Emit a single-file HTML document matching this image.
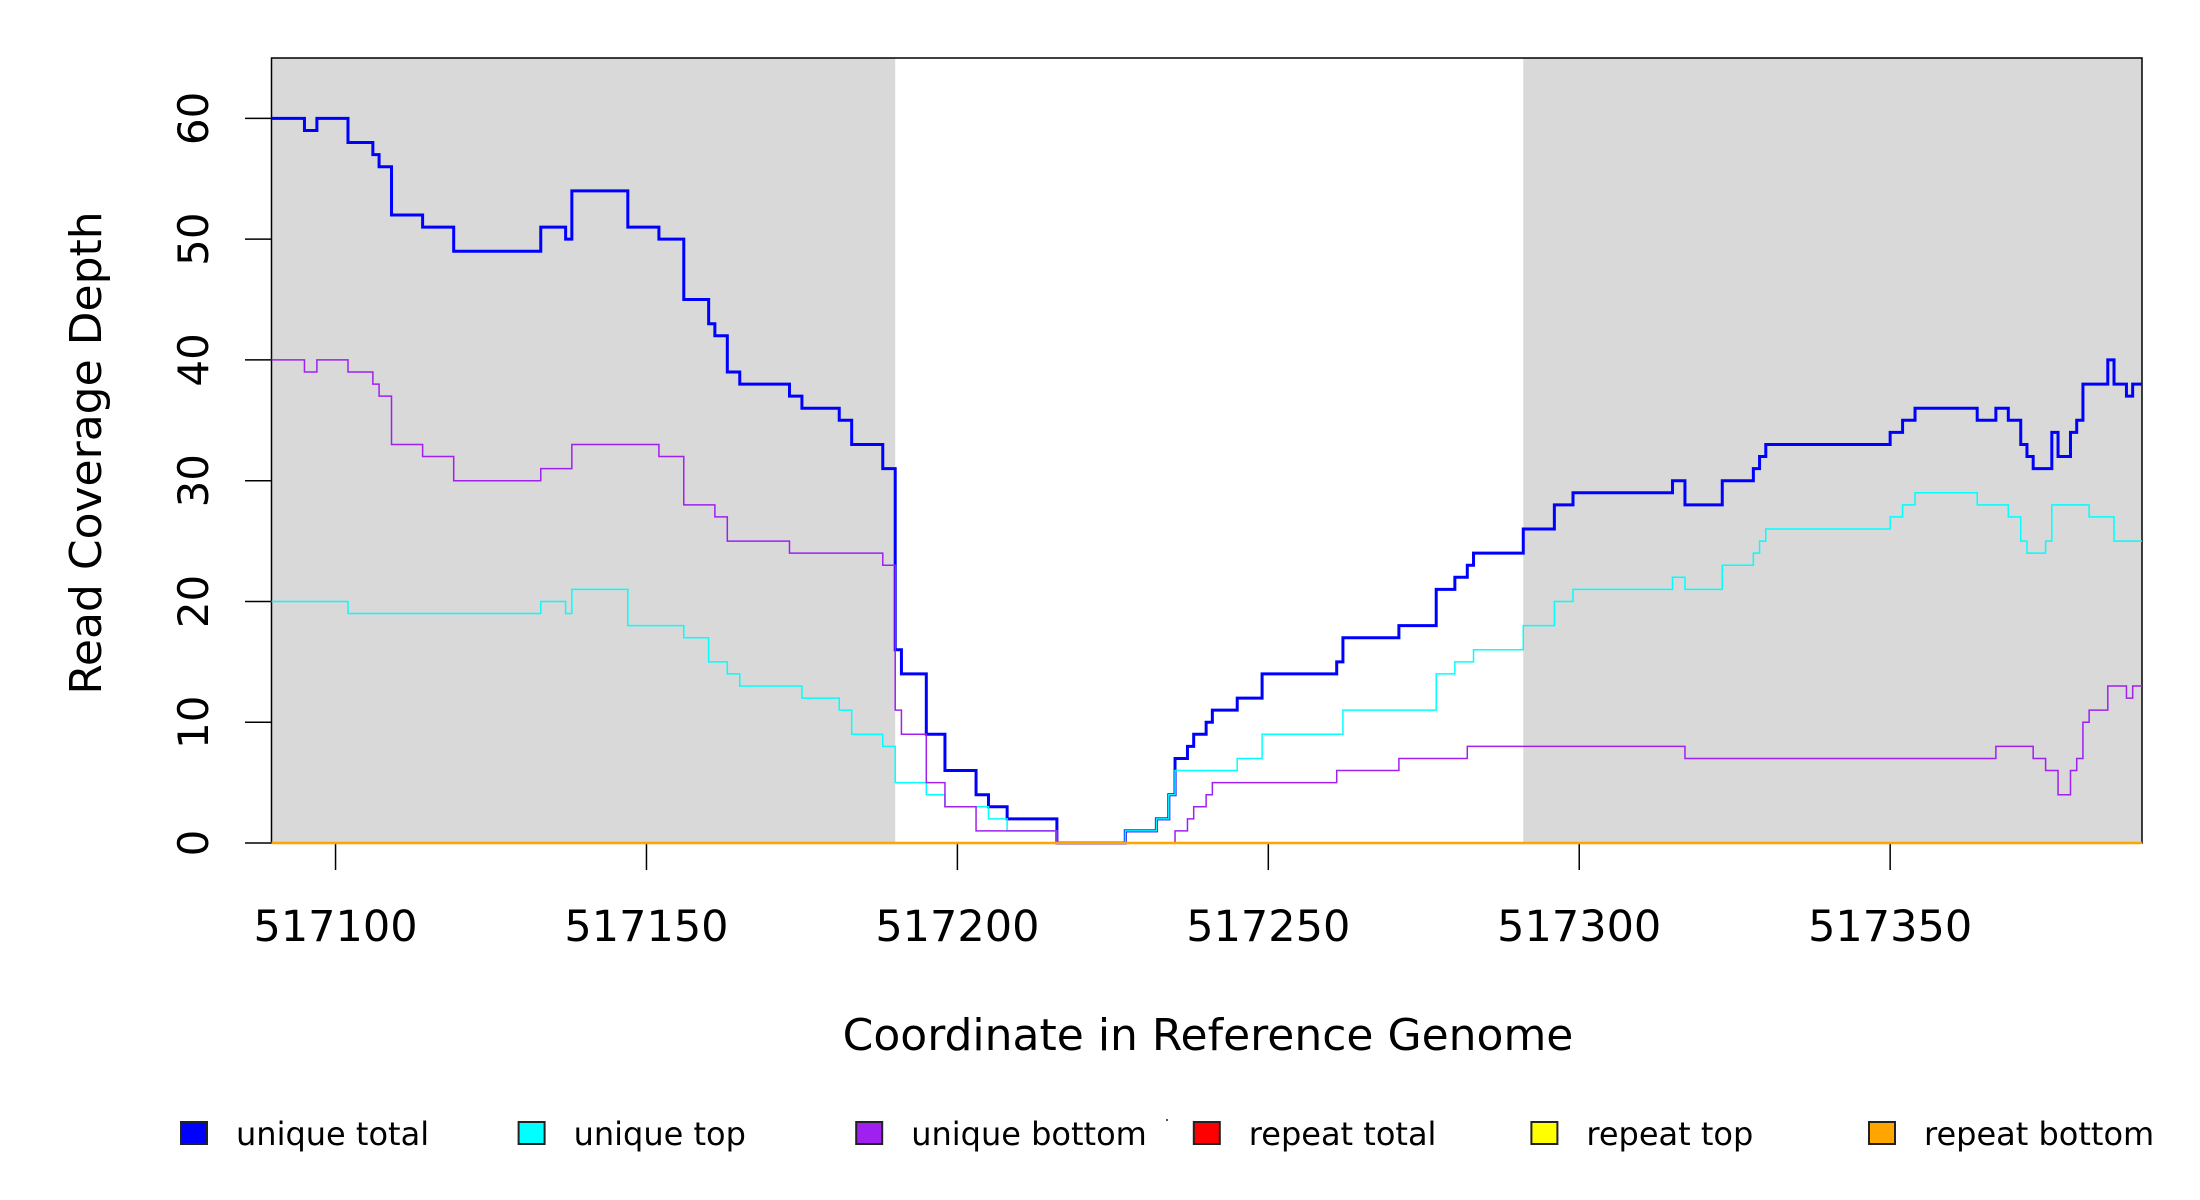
<!DOCTYPE html>
<html><head><meta charset="utf-8"><style>
html,body{margin:0;padding:0;background:#fff}
svg{display:block;font-family:"DejaVu Sans","Liberation Sans",sans-serif}
</style></head><body>
<svg id="chart" width="2200" height="1200" viewBox="0 0 2200 1200" xmlns="http://www.w3.org/2000/svg">
<g id="shade"></g>
<g id="axes"></g>
<g id="plot"></g>
<text x="1208" y="1050" font-size="44" text-anchor="middle">Coordinate in Reference Genome</text>
<text transform="translate(101,453) rotate(-90)" font-size="44" text-anchor="middle">Read Coverage Depth</text>
<g id="legend"></g>
<rect x="1166" y="1119" width="2" height="2" fill="#555"/>
</svg>
<script>
const xDomain = [517089.7, 517390.5];
const yDomain = [0, 65];
const xTicks = [517100, 517150, 517200, 517250, 517300, 517350];
const yTicks = [0, 10, 20, 30, 40, 50, 60];
const shadeRanges = [[517089.7, 517190], [517291, 517390.5]];
const seriesNames = ["unique total", "unique top", "unique bottom", "repeat total", "repeat top", "repeat bottom"];
const seriesColors = ["#0000ff", "#00ffff", "#a020f0", "#ff0000", "#ffff00", "#ffa500"];
const totalStarts = [517090,517095,517097,517102,517106,517107,517109,517114,517119,517133,517137,517138,517147,517152,517156,517160,517161,517163,517165,517173,517175,517181,517183,517188,517190,517191,517195,517198,517203,517205,517208,517216,517227,517232,517234,517235,517237,517238,517240,517241,517245,517249,517261,517262,517271,517277,517280,517282,517283,517291,517296,517299,517315,517317,517323,517328,517329,517330,517350,517352,517354,517364,517367,517369,517371,517372,517373,517376,517377,517379,517380,517381,517385,517386,517388,517389];
const totalValues = [60,59,60,58,57,56,52,51,49,51,50,54,51,50,45,43,42,39,38,37,36,35,33,31,16,14,9,6,4,3,2,0,1,2,4,7,8,9,10,11,12,14,15,17,18,21,22,23,24,26,28,29,30,28,30,31,32,33,34,35,36,35,36,35,33,32,31,34,32,34,35,38,40,38,37,38];
const topStarts = [517090,517102,517133,517137,517138,517147,517156,517160,517163,517165,517175,517181,517183,517188,517190,517195,517198,517205,517208,517216,517227,517232,517234,517235,517245,517249,517262,517277,517280,517283,517291,517296,517299,517315,517317,517323,517328,517329,517330,517350,517352,517354,517364,517369,517371,517372,517375,517376,517382,517386];
const topValues = [20,19,20,19,21,18,17,15,14,13,12,11,9,8,5,4,3,2,1,0,1,2,4,6,7,9,11,14,15,16,18,20,21,22,21,23,24,25,26,27,28,29,28,27,25,24,25,28,27,25];
const bottomStarts = [517090,517095,517097,517102,517106,517107,517109,517114,517119,517133,517138,517152,517156,517161,517163,517173,517188,517190,517191,517195,517198,517203,517216,517235,517237,517238,517240,517241,517261,517271,517282,517317,517367,517373,517375,517377,517379,517380,517381,517382,517385,517388,517389];
const bottomValues = [40,39,40,39,38,37,33,32,30,31,33,32,28,27,25,24,23,11,9,5,3,1,0,1,2,3,4,5,6,7,8,7,8,7,6,4,6,7,10,11,13,12,13];
const repeatStarts = [517090];
const repeatValues = [0];

const NS = "http://www.w3.org/2000/svg";
const L = 271.5, R = 2142, T = 58, B = 843;
function sx(v){ return L + (v - xDomain[0]) / (xDomain[1] - xDomain[0]) * (R - L); }
function sy(v){ return B - (v - yDomain[0]) / (yDomain[1] - yDomain[0]) * (B - T); }
function mk(tag, attrs, parent){ const e = document.createElementNS(NS, tag); for (const k in attrs) e.setAttribute(k, attrs[k]); parent.appendChild(e); return e; }

const shade = document.getElementById('shade');
const plot = document.getElementById('plot');
const axes = document.getElementById('axes');
const legend = document.getElementById('legend');

shadeRanges.forEach((r, i) => {
  const rc = mk('rect', {x: sx(r[0]), y: T, width: sx(r[1]) - sx(r[0]), height: B - T, fill: '#d9d9d9'}, shade);
  
  
});

function stepPath(starts, values){
  let d = 'M' + sx(xDomain[0]).toFixed(2) + ',' + sy(values[0]).toFixed(2);
  for (let i = 0; i < starts.length; i++){
    if (i > 0) d += 'H' + sx(starts[i]).toFixed(2) + 'V' + sy(values[i]).toFixed(2);
  }
  d += 'H' + sx(xDomain[1]).toFixed(2);
  return d;
}
const seriesData = [
  [totalStarts, totalValues, 3],
  [topStarts, topValues, 1.5],
  [bottomStarts, bottomValues, 1.5],
  [repeatStarts, repeatValues, 1.5],
  [repeatStarts, repeatValues, 1.5],
  [repeatStarts, repeatValues, 2.5]
];
seriesData.forEach((s, i) => {
  const p = mk('path', {d: stepPath(s[0], s[1]), fill: 'none', stroke: seriesColors[i], 'stroke-width': s[2]}, plot);
  
  
});

const box = mk('rect', {x: L, y: T, width: R - L, height: B - T, fill: 'none', stroke: '#000', 'stroke-width': 1.5}, axes);



xTicks.forEach(t => {
  const ln = mk('line', {x1: sx(t), x2: sx(t), y1: B, y2: 870, stroke: '#000', 'stroke-width': 1.5}, axes);
  
  
  const tx = mk('text', {x: sx(t), y: 941, 'font-size': 43, 'text-anchor': 'middle'}, axes);
  tx.textContent = t;
  
  
});
yTicks.forEach(t => {
  const ln = mk('line', {x1: 245, x2: L, y1: sy(t), y2: sy(t), stroke: '#000', 'stroke-width': 1.5}, axes);
  
  
  const tx = mk('text', {transform: 'translate(208,' + sy(t) + ') rotate(-90)', 'font-size': 42, 'text-anchor': 'middle'}, axes);
  tx.textContent = t;
  
  
});

seriesNames.forEach((n, i) => {
  const bx = 181 + i * 337.6;
  const g = mk('g', {}, legend);
  
  
  mk('rect', {x: bx, y: 1122, width: 26, height: 22, fill: seriesColors[i], stroke: '#222', 'stroke-width': 2}, g);
  const tx = mk('text', {x: bx + 55, y: 1145, 'font-size': 32}, g);
  tx.textContent = n;
});
</script>
</body></html>
